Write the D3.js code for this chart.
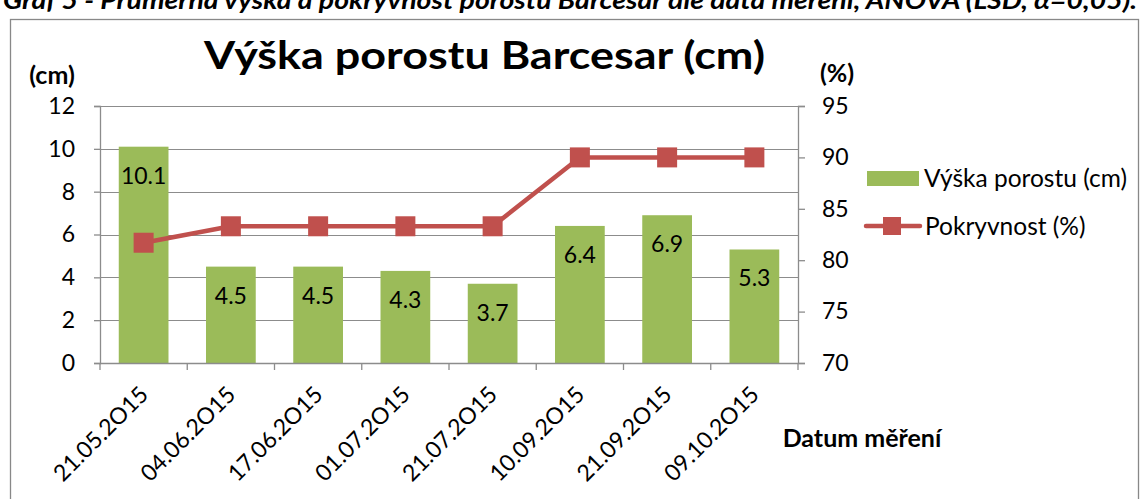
<!DOCTYPE html>
<html>
<head>
<meta charset="utf-8">
<script src="https://cdn.jsdelivr.net/npm/d3@7"></script>
<style>
  html, body { margin: 0; padding: 0; background: #fff; }
  svg { display: block; font-family: Lato, "Open Sans", sans-serif; }
</style>
</head>
<body>
<svg id="chart" width="1141" height="499"></svg>
<script>
// ---- data ----
const categories = ["21.05.2O15", "04.06.2O15", "17.06.2O15", "01.07.2O15", "21.07.2O15", "10.09.2O15", "21.09.2O15", "09.10.2O15"];
const heightValues = [10.1, 4.5, 4.5, 4.3, 3.7, 6.4, 6.9, 5.3];
const coverValues = [81.7, 83.3, 83.3, 83.3, 83.3, 90, 90, 90];
const leftTicks = [0, 2, 4, 6, 8, 10, 12];
const rightTicks = [70, 75, 80, 85, 90, 95];
const seriesNames = ["Výška porostu (cm)", "Pokryvnost (%)"];
const titleText = "Výška porostu Barcesar (cm)";
const captionText = "Graf 5 - Průměrná výška a pokryvnost porostu Barcesar dle data měření, ANOVA (LSD, α=0,05).";

// ---- layout ----
const svg = d3.select("#chart");
const plot = { left: 100, right: 798, top: 106, bottom: 363 };
const barColor = "#9BBB59", lineColor = "#C0504D", gridColor = "#8C8C8C";

const x = d3.scaleBand().domain(categories).range([plot.left, plot.right]).paddingInner(0.43).paddingOuter(0.215);
const xCenter = d => x(d) + x.bandwidth() / 2;
const yL = d3.scaleLinear().domain([0, 12]).range([plot.bottom, plot.top]);
const yR = d3.scaleLinear().domain([70, 95]).range([plot.bottom, plot.top]);

// caption at top (partly cut off by the page edge, as in the source)
svg.append("text").attr("x", 3).attr("y", 9)
  .attr("font-weight", "bold").attr("font-style", "italic").attr("font-size", 24)
  .attr("textLength", 1134).attr("lengthAdjust", "spacingAndGlyphs")
  .attr("fill", "#000").text(captionText);

// outer frame
svg.append("rect").attr("x", 10.5).attr("y", 19.5).attr("width", 1128).attr("height", 500)
  .attr("fill", "#fff").attr("stroke", "#888").attr("stroke-width", 1.3);

// gridlines
svg.append("g").selectAll("line").data(leftTicks.filter(t => t > 0)).join("line")
  .attr("x1", plot.left).attr("x2", plot.right)
  .attr("y1", d => Math.round(yL(d)) + 0.5).attr("y2", d => Math.round(yL(d)) + 0.5)
  .attr("stroke", gridColor).attr("stroke-width", 1);

// left axis
const gL = svg.append("g").attr("transform", `translate(${plot.left},0)`)
  .call(d3.axisLeft(yL).tickValues(leftTicks).tickSize(6).tickPadding(19));
// right axis
const gR = svg.append("g").attr("transform", `translate(${plot.right},0)`)
  .call(d3.axisRight(yR).tickValues(rightTicks).tickSize(7).tickPadding(17));
[gL, gR].forEach(g => {
  g.select(".domain").attr("stroke", gridColor).attr("stroke-width", 1.3);
  g.selectAll(".tick line").attr("stroke", gridColor).attr("stroke-width", 1.3);
  g.selectAll(".tick text").attr("font-size", 23).attr("font-family", "Lato").attr("fill", "#000");
});

// bars
svg.append("g").selectAll("rect").data(categories).join("rect")
  .attr("x", d => x(d)).attr("width", x.bandwidth())
  .attr("y", (d, i) => yL(heightValues[i]))
  .attr("height", (d, i) => yL(0) - yL(heightValues[i]))
  .attr("fill", barColor);

// bar labels
svg.append("g").selectAll("text").data(categories).join("text")
  .attr("x", d => xCenter(d)).attr("y", (d, i) => yL(heightValues[i]) + 37)
  .attr("text-anchor", "middle").attr("font-size", 23).attr("fill", "#000")
  .text((d, i) => heightValues[i].toFixed(1));

// x axis
const xTickPositions = d3.range(categories.length + 1).map(i => plot.left + i * x.step());
svg.append("line").attr("x1", plot.left).attr("x2", plot.right)
  .attr("y1", plot.bottom + 0.5).attr("y2", plot.bottom + 0.5)
  .attr("stroke", gridColor).attr("stroke-width", 1.3);
svg.append("g").selectAll("line").data(xTickPositions).join("line")
  .attr("x1", d => d).attr("x2", d => d)
  .attr("y1", plot.bottom).attr("y2", plot.bottom + 7)
  .attr("stroke", gridColor).attr("stroke-width", 1.3);
svg.append("g").selectAll("text").data(categories).join("text")
  .attr("transform", d => `translate(${xCenter(d) + 6},${plot.bottom + 33}) rotate(-45)`)
  .attr("text-anchor", "end").attr("font-size", 23).attr("fill", "#000")
  .text(d => d);

// line series
const line = d3.line().x((d, i) => xCenter(categories[i])).y(d => yR(d));
svg.append("path").datum(coverValues).attr("d", line)
  .attr("fill", "none").attr("stroke", lineColor).attr("stroke-width", 4.5).attr("stroke-linejoin", "round");
svg.append("g").selectAll("rect").data(coverValues).join("rect")
  .attr("x", (d, i) => xCenter(categories[i]) - 10).attr("y", d => yR(d) - 10)
  .attr("width", 20).attr("height", 20).attr("fill", lineColor);

// title
svg.append("text").attr("x", 204).attr("y", 69)
  .attr("font-weight", "bold").attr("font-size", 39)
  .attr("textLength", 561).attr("lengthAdjust", "spacingAndGlyphs")
  .attr("fill", "#000").text(titleText);

// axis unit labels
svg.append("text").attr("x", 52).attr("y", 84).attr("text-anchor", "middle")
  .attr("font-weight", "bold").attr("font-size", 25).text("(cm)");
svg.append("text").attr("x", 837).attr("y", 82).attr("text-anchor", "middle")
  .attr("font-weight", "bold").attr("font-size", 25).text("(%)");
svg.append("text").attr("x", 862).attr("y", 447).attr("text-anchor", "middle")
  .attr("font-weight", "bold").attr("font-size", 25).text("Datum měření");

// legend
const lg = svg.append("g");
lg.append("rect").attr("x", 867).attr("y", 171).attr("width", 52).attr("height", 15).attr("fill", barColor);
lg.append("text").attr("x", 924).attr("y", 187).attr("font-size", 24.5).text(seriesNames[0]);
lg.append("line").attr("x1", 866).attr("x2", 920).attr("y1", 226).attr("y2", 226)
  .attr("stroke", lineColor).attr("stroke-width", 4.5).attr("stroke-linecap", "round");
lg.append("rect").attr("x", 883).attr("y", 217).attr("width", 18).attr("height", 18).attr("fill", lineColor);
lg.append("text").attr("x", 925).attr("y", 235).attr("font-size", 24.5).text(seriesNames[1]);
</script>
</body>
</html>
